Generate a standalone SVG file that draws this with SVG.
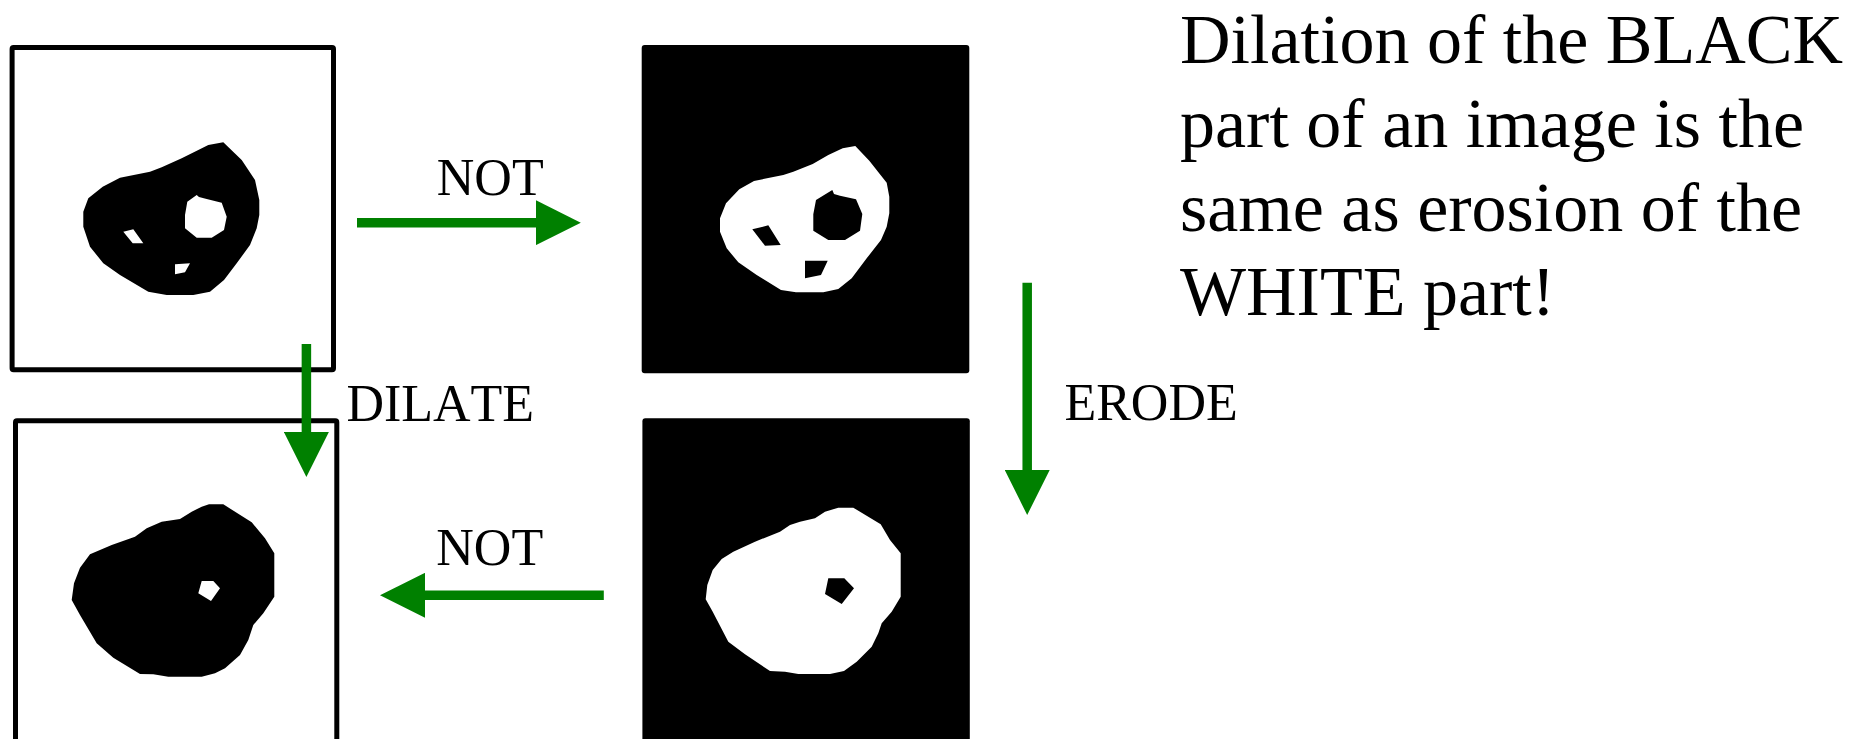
<svg xmlns="http://www.w3.org/2000/svg" width="1864" height="739" viewBox="0 0 1864 739">
  <style>
    .frame { fill: #ffffff; stroke: #000000; stroke-width: 5; }
    .dark { fill: #000000; }
    .ink { fill: #000000; fill-rule: evenodd; }
    .paper { fill: #ffffff; fill-rule: evenodd; }
    .shaft { stroke: #008000; stroke-width: 9.5; fill: none; marker-end: url(#ah); }
    .lbl { font-family: "Liberation Serif", "Times New Roman", serif; font-size: 52px; fill: #000000; font-kerning: none; }
    .note { font-family: "Liberation Serif", "Times New Roman", serif; font-size: 70px; fill: #000000; font-kerning: none; }
  </style>
  <defs>
    <marker id="ah" markerUnits="userSpaceOnUse" markerWidth="45" markerHeight="45" viewBox="0 0 45 45" refX="1" refY="22.5" orient="auto">
      <path d="M0,0 L45,22.5 L0,45 Z" fill="#008000"/>
    </marker>
  </defs>
  <rect width="1864" height="739" fill="#ffffff"/>

  <g id="original">
    <rect class="frame" x="12.1" y="47.5" width="321.4" height="322.3" rx="1.5"/>
    <path class="ink" d="M223.3,142.3 L241.7,160 L255,180 L259.3,200 L259.3,215 L256.7,228.3 L250,245 L236.7,263.3 L224,280 L210,291.7 L193.3,295 L166.7,295 L148.3,291.7 L120,275 L103.3,263.3 L90,246.7 L83.3,226.7 L83.3,211.7 L88.3,198.3 L102.7,186.7 L120,177.7 L150,171.7 L161.7,167.3 L181.7,158.3 L198.3,150 L208.3,145 Z
      M196.7,195 L199,197 L206.7,199 L221.7,202.7 L226.7,216.7 L224,230 L211.7,237.7 L196.7,237.7 L185,228.3 L185,215 L187.3,201.7 Z
      M123.3,231.7 L133.3,229.3 L143.3,243.3 L132.7,243.3 Z
      M175,264.3 L190,263.3 L185,272.3 L175,274.3 Z"/>
  </g>

  <g id="negated">
    <rect class="dark" x="641.7" y="45" width="327.6" height="328.3" rx="3"/>
    <path class="paper" d="M855.3,146 L869.3,160.7 L886.7,182.7 L889.3,196.7 L889.3,213.3 L886.7,226.7 L881,240 L866.7,258.3 L851.7,278.3 L838.3,289 L823.3,292.3 L796,292.3 L781,290 L756.7,275 L738.3,262.3 L726.7,248.3 L720,231.7 L720,218.3 L726,203.3 L739.3,189.3 L754,181 L783.3,175 L793.3,171.7 L812.7,164 L828.3,155 L842.7,148.3 Z
      M832.3,190 L834,194 L840,195.7 L856,199.3 L862.3,214 L860,230.7 L845,240 L828.3,240 L813.3,230.7 L813.3,214.3 L816,200 Z
      M752.3,229.3 L768.3,225.3 L780.7,245 L765,245.7 Z
      M805,260.7 L827.7,260.7 L821,275 L805,278.3 Z"/>
  </g>

  <g id="eroded">
    <rect class="dark" x="642.4" y="418.3" width="327.4" height="330" rx="3"/>
    <path class="paper" d="M838.3,507.7 L853.3,507.7 L880.7,524.3 L890,540 L900.7,553.3 L900.7,596.7 L891.7,611.7 L881.7,623.3 L878.3,633.3 L871.7,646.7 L856.7,661.7 L844,671 L830,674 L798.3,674 L785,671.7 L770,671 L745,654.3 L728.3,641.7 L712.7,611.7 L705.7,599.3 L707.3,585 L712.7,570 L721.7,559 L733.3,551.7 L755,541.7 L780,531.7 L790,525 L800,521.7 L815,518.3 L825,511.7 Z
      M828.3,578.3 L844.3,578.3 L854,588.3 L841.7,604 L825,594 Z"/>
  </g>

  <g id="dilated">
    <rect class="frame" x="15.5" y="420.8" width="321.3" height="330" rx="1.5"/>
    <path class="ink" d="M209,504.3 L223.3,504.3 L251.7,522.3 L265,538.3 L274.3,553.3 L274.3,596.7 L263.3,613.3 L253.3,625 L248.3,640 L240,655 L225,668.3 L215,673.3 L201.7,676.7 L168.3,676.7 L153.3,674.3 L140,674 L113.3,657.7 L96.7,643.3 L80,615 L71.7,600 L74,583.3 L80,567.7 L90,554.3 L111.7,545 L135,536.7 L146.7,528.3 L161.7,521.7 L180,519 L191.7,511.7 L201.7,506.7 Z
      M201.7,581 L213.3,581 L220,588.3 L211,601 L198.3,593.3 Z"/>
  </g>

  <g id="note">
    <text class="note" x="1180" y="62.7">Dilation of the BLACK</text>
    <text class="note" x="1180" y="146.7">part of an image is the</text>
    <text class="note" x="1180" y="230.7">same as erosion of the</text>
    <text class="note" x="1180" y="315">WHITE part!</text>
  </g>

  <g id="connectors">
    <line class="shaft" x1="357" y1="222.7" x2="536.8" y2="222.7"/>
    <line class="shaft" x1="306.4" y1="344" x2="306.4" y2="433"/>
    <line class="shaft" x1="1027.2" y1="282.7" x2="1027.2" y2="471"/>
    <line class="shaft" x1="603.8" y1="595.3" x2="424" y2="595.3"/>
    <text class="lbl" x="436.8" y="195">NOT</text>
    <text class="lbl" x="346.4" y="420.7">DILATE</text>
    <text class="lbl" x="1064.4" y="420">ERODE</text>
    <text class="lbl" x="436.3" y="565">NOT</text>
  </g>
</svg>
